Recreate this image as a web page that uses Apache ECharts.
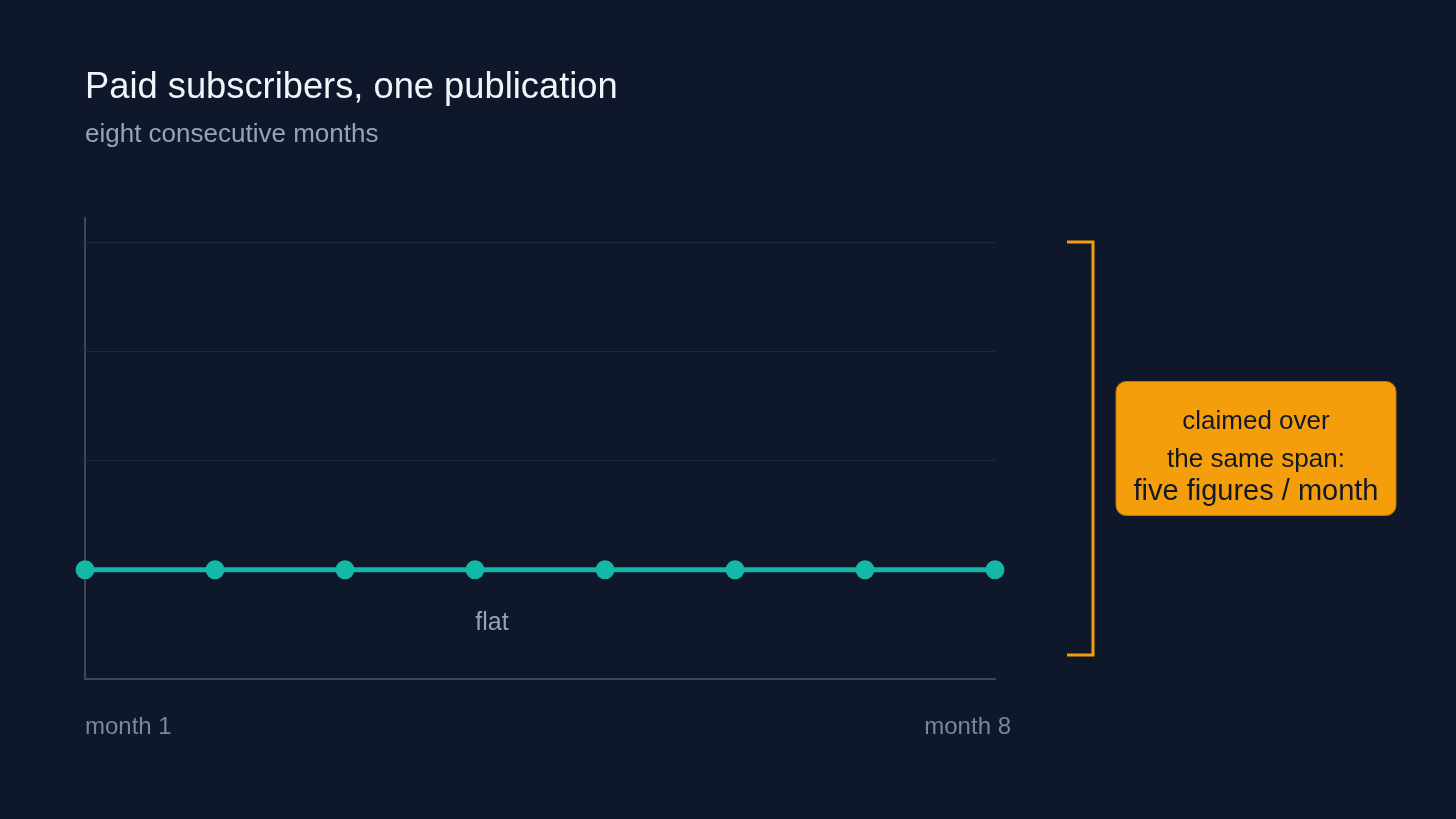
<!DOCTYPE html>
<html>
<head>
<meta charset="utf-8">
<script src="https://cdn.jsdelivr.net/npm/echarts@6/dist/echarts.min.js"></script>
<style>
  html, body { margin: 0; background: #0f172a; }
  #chart { width: 1456px; height: 819px; }
</style>
</head>
<body>
<div id="chart"></div>
<script>
const months = ['month 1', 'month 2', 'month 3', 'month 4', 'month 5', 'month 6', 'month 7', 'month 8'];
const paidSubscribers = [1, 1, 1, 1, 1, 1, 1, 1];
const gridValues = [2, 3, 4];
const claimedRange = [0.22, 4];
const noteLines = ['claimed over', 'the same span:', 'five figures / month'];
const flatNote = 'flat';

const FONT = '"Liberation Sans", Arial, Helvetica, sans-serif';
const TEAL = '#14b8a6';
const AMBER = '#f59e0b';
const AXIS = '#3d4759';

const chart = echarts.init(document.getElementById('chart'));

chart.setOption({
  backgroundColor: '#0f172a',
  animation: false,
  title: {
    left: 85,
    top: 66,
    padding: 0,
    text: 'Paid subscribers, one publication',
    subtext: 'eight consecutive months',
    itemGap: 9,
    textStyle: { color: '#f1f5f9', fontSize: 36.3, fontWeight: 'normal', fontFamily: FONT, lineHeight: 44 },
    subtextStyle: { color: '#94a3b8', fontSize: 26, fontFamily: FONT, lineHeight: 32 }
  },
  grid: { left: 85, right: 461, top: 218, bottom: 140 },
  xAxis: {
    type: 'category',
    data: months,
    boundaryGap: false,
    axisLine: { lineStyle: { color: AXIS, width: 2 } },
    axisTick: { show: false },
    splitLine: { show: false },
    axisLabel: {
      interval: (i) => i === 0 || i === months.length - 1,
      color: '#7b8799',
      fontSize: 24,
      fontFamily: FONT,
      margin: 36,
      alignMinLabel: 'left',
      alignMaxLabel: 'right',
      formatter: (v, i) => i === months.length - 1 ? '{last|' + v + '}' : v,
      rich: {
        last: { color: '#7b8799', fontSize: 24, fontFamily: FONT, padding: [0, -16, 0, 0] }
      }
    }
  },
  yAxis: {
    type: 'value',
    min: 0,
    max: 4.22,
    axisLine: { show: true, lineStyle: { color: AXIS, width: 2 } },
    axisTick: { show: false },
    axisLabel: { show: false },
    splitLine: { show: false }
  },
  series: [{
    type: 'line',
    data: paidSubscribers,
    symbol: 'circle',
    symbolSize: 19,
    showAllSymbol: true,
    lineStyle: { color: TEAL, width: 5 },
    itemStyle: { color: TEAL },
    z: 5,
    markLine: {
      silent: true,
      symbol: 'none',
      label: { show: false },
      lineStyle: { color: '#1f2a3d', width: 1, type: 'solid' },
      data: gridValues.map(v => ({ yAxis: v })),
      z: 1
    },
    markPoint: {
      silent: true,
      symbol: 'circle',
      symbolSize: 0,
      data: [{ coord: [3, 1] }],
      label: {
        show: true,
        formatter: flatNote,
        color: '#94a3b8',
        fontSize: 25,
        fontFamily: FONT,
        offset: [17, 53]
      }
    }
  }]
});

// bracket + note box, placed from the y scale
const yTop = chart.convertToPixel({ yAxisIndex: 0 }, claimedRange[1]);
const yBot = chart.convertToPixel({ yAxisIndex: 0 }, claimedRange[0]);
const mid = (yTop + yBot) / 2;
const lineSizes = [26, 26, 29];
const lineOffsets = [-27, 11, 43];

chart.setOption({
  graphic: [
    {
      type: 'polyline',
      shape: { points: [[1067, yTop], [1093, yTop], [1093, yBot], [1067, yBot]] },
      style: { stroke: AMBER, lineWidth: 3, fill: null }
    },
    {
      type: 'rect',
      shape: { x: 1116, y: mid - 67, width: 280, height: 134, r: 10 },
      style: { fill: AMBER, stroke: '#b87608', lineWidth: 1 }
    }
  ].concat(noteLines.map((t, i) => ({
    type: 'text',
    x: 1256,
    y: mid + lineOffsets[i],
    style: {
      text: t,
      fill: '#111827',
      fontSize: lineSizes[i],
      fontFamily: FONT,
      align: 'center',
      verticalAlign: 'middle'
    }
  })))
});
</script>
</body>
</html>
